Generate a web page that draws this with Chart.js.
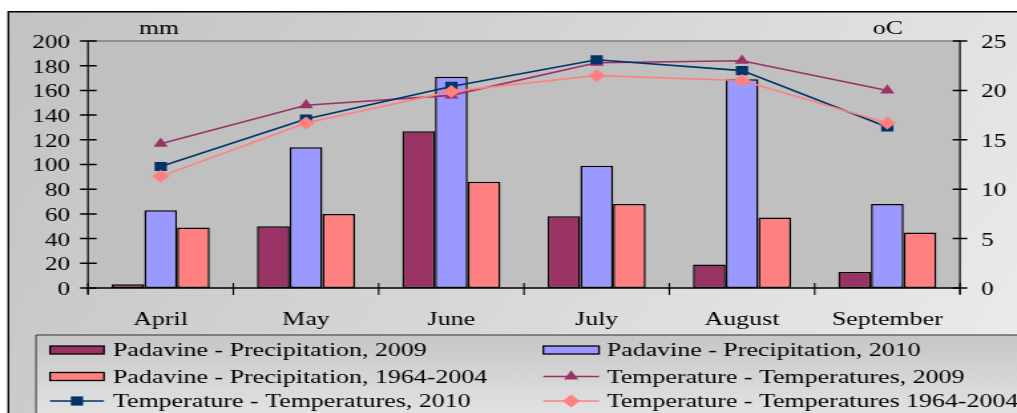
<!DOCTYPE html>
<html><head><meta charset="utf-8">
<script src="https://cdn.jsdelivr.net/npm/chart.js@4.4.0/dist/chart.umd.min.js"></script>
<style>
html,body{margin:0;padding:0;background:#fff;overflow:hidden;width:1017px;height:413px;}
#wrap{position:absolute;left:0;top:0;width:765px;height:413px;transform:scaleX(1.329412);transform-origin:0 0;}
canvas{display:block;}
</style></head><body>
<div id="wrap"><canvas id="c" width="765" height="413"></canvas></div>
<script>
const categories = ['April', 'May', 'June', 'July', 'August', 'September'];
const seriesNames = [
  'Padavine - Precipitation, 2009',
  'Padavine - Precipitation, 2010',
  'Padavine - Precipitation, 1964-2004',
  'Temperature - Temperatures, 2009',
  'Temperature - Temperatures, 2010',
  'Temperature - Temperatures 1964-2004'
];
const precip2009 = [3, 50, 127, 58, 19, 13];
const precip2010 = [63, 114, 171, 99, 169, 68];
const precip19642004 = [49, 60, 86, 68, 57, 45];
const temp2009 = [14.6, 18.5, 19.5, 22.8, 23.0, 20.0];
const temp2010 = [12.3, 17.1, 20.4, 23.1, 22.0, 16.3];
const temp19642004 = [11.3, 16.7, 19.9, 21.5, 21.0, 16.7];
const leftTicks = [0, 20, 40, 60, 80, 100, 120, 140, 160, 180, 200];
const rightTicks = [0, 5, 10, 15, 20, 25];
const leftUnit = 'mm';
const rightUnit = 'oC';

const FONT = "'Liberation Serif', 'Times New Roman', serif";

function marker(ctx, style, x, y, r, color) {
  ctx.fillStyle = color;
  ctx.beginPath();
  if (style === 'triangle') {
    ctx.moveTo(x, y - r);
    ctx.lineTo(x + r * 0.866, y + r * 0.5);
    ctx.lineTo(x - r * 0.866, y + r * 0.5);
  } else if (style === 'rect') {
    const s = r * Math.SQRT1_2;
    ctx.rect(x - s, y - s, 2 * s, 2 * s);
  } else {
    ctx.moveTo(x, y - r); ctx.lineTo(x + r, y); ctx.lineTo(x, y + r); ctx.lineTo(x - r, y);
  }
  ctx.closePath();
  ctx.fill();
}

const decor = {
  id: 'decor',
  beforeDraw(chart) {
    const {ctx, chartArea: a, width, height} = chart;
    ctx.save();
    ctx.fillStyle = '#fff';
    ctx.fillRect(0, 0, width, height);
    const g = ctx.createLinearGradient(6, 11, width, height);
    g.addColorStop(0, '#c2c2c2');
    g.addColorStop(1, '#ececec');
    ctx.fillStyle = g;
    ctx.fillRect(6.3, 11.7, width, height);
    ctx.strokeStyle = '#000';
    ctx.lineWidth = 1.4;
    ctx.beginPath();
    ctx.moveTo(6.3, height + 5); ctx.lineTo(6.3, 11.7); ctx.lineTo(width + 5, 11.7);
    ctx.stroke();
    // plot area
    ctx.fillStyle = '#c0c0c0';
    ctx.fillRect(a.left, a.top, a.right - a.left, a.bottom - a.top);
    ctx.strokeStyle = '#808080';
    ctx.lineWidth = 1.5;
    ctx.beginPath(); ctx.moveTo(a.left, a.top); ctx.lineTo(a.right, a.top); ctx.stroke();
    // unit labels
    ctx.fillStyle = '#000';
    ctx.font = '19.5px ' + FONT;
    ctx.textAlign = 'center';
    ctx.textBaseline = 'middle';
    ctx.fillText(leftUnit, 119.6, 29);
    ctx.fillText(rightUnit, 668, 29);
    // legend box
    const lg = ctx.createLinearGradient(0, 335, 0, height);
    lg.addColorStop(0, '#c6c6c6');
    lg.addColorStop(1, '#e2e2e2');
    ctx.fillStyle = lg;
    ctx.fillRect(27.1, 335, width, height);
    ctx.strokeStyle = '#333';
    ctx.lineWidth = 1;
    ctx.beginPath();
    ctx.moveTo(27.1, height + 5); ctx.lineTo(27.1, 335); ctx.lineTo(width + 5, 335);
    ctx.stroke();
    // legend items
    const cols = [{sx: 37.6, ex: 78.2, tx: 85}, {sx: 408.7, ex: 450.6, tx: 456.4}];
    const rows = [350, 376.5, 401];
    chart.data.datasets.forEach((ds, i) => {
      const c = cols[i % 2], y = rows[Math.floor(i / 2)];
      if (ds.type === 'bar') {
        ctx.fillStyle = ds.backgroundColor;
        ctx.fillRect(c.sx, y - 4, c.ex - c.sx, 8);
        ctx.strokeStyle = '#000';
        ctx.lineWidth = 1.3;
        ctx.strokeRect(c.sx, y - 4, c.ex - c.sx, 8);
      } else {
        ctx.strokeStyle = ds.borderColor;
        ctx.lineWidth = 1.5;
        ctx.beginPath(); ctx.moveTo(c.sx, y); ctx.lineTo(c.ex, y); ctx.stroke();
        marker(ctx, ds.pointStyle, (c.sx + c.ex) / 2, y, ds.pointRadius, ds.borderColor);
      }
      ctx.fillStyle = '#000';
      ctx.font = '19.5px ' + FONT;
      ctx.textAlign = 'left';
      ctx.textBaseline = 'middle';
      ctx.fillText(ds.label, c.tx, y + 1);
    });
    ctx.restore();
  },
  afterDatasetsDraw(chart) {
    const {ctx, chartArea: a, scales} = chart;
    ctx.save();
    ctx.strokeStyle = '#000';
    ctx.lineWidth = 1.2;
    ctx.beginPath();
    ctx.moveTo(a.left, a.top); ctx.lineTo(a.left, a.bottom + 6);
    ctx.moveTo(a.right, a.top); ctx.lineTo(a.right, a.bottom + 6);
    ctx.stroke();
    ctx.lineWidth = 1.5;
    ctx.beginPath();
    ctx.moveTo(a.left, a.bottom); ctx.lineTo(a.right, a.bottom);
    ctx.stroke();
    ctx.beginPath();
    scales.y.ticks.forEach(t => {
      const p = scales.y.getPixelForValue(t.value);
      ctx.moveTo(a.left - 6, p); ctx.lineTo(a.left + 6.5, p);
    });
    scales.y1.ticks.forEach(t => {
      const p = scales.y1.getPixelForValue(t.value);
      ctx.moveTo(a.right - 5.5, p); ctx.lineTo(a.right + 5.5, p);
    });
    ctx.stroke();
    ctx.lineWidth = 1.1;
    ctx.beginPath();
    for (let i = 0; i <= categories.length; i++) {
      const p = scales.x.getPixelForValue(i - 0.5);
      ctx.moveTo(p, a.bottom - 5); ctx.lineTo(p, a.bottom + 7);
    }
    ctx.stroke();
    ctx.restore();
  }
};

const barCommon = {type: 'bar', yAxisID: 'y', borderColor: '#000', borderWidth: 1.5,
  borderSkipped: false, categoryPercentage: 0.675, barPercentage: 1.0, order: 3};
const lineCommon = {type: 'line', yAxisID: 'y1', borderWidth: 1.6, pointBorderWidth: 0, fill: false, tension: 0};

new Chart(document.getElementById('c'), {
  data: {
    labels: categories,
    datasets: [
      Object.assign({}, barCommon, {label: seriesNames[0], data: precip2009, backgroundColor: '#993366'}),
      Object.assign({}, barCommon, {label: seriesNames[1], data: precip2010, backgroundColor: '#9999FF'}),
      Object.assign({}, barCommon, {label: seriesNames[2], data: precip19642004, backgroundColor: '#FF8080'}),
      Object.assign({}, lineCommon, {label: seriesNames[3], data: temp2009, borderColor: '#993366', backgroundColor: '#993366', pointStyle: 'triangle', pointRadius: 6.2, order: 2}),
      Object.assign({}, lineCommon, {label: seriesNames[4], data: temp2010, borderColor: '#003366', backgroundColor: '#003366', pointStyle: 'rect', pointRadius: 6.5, order: 1}),
      Object.assign({}, lineCommon, {label: seriesNames[5], data: temp19642004, borderColor: '#FF8080', backgroundColor: '#FF8080', pointStyle: 'rectRot', pointRadius: 6.5, order: 0})
    ]
  },
  options: {
    responsive: false,
    animation: false,
    devicePixelRatio: 1,
    layout: {padding: {top: 41, left: 0, right: 0, bottom: 0}},
    plugins: {legend: {display: false}, tooltip: {enabled: false}},
    scales: {
      x: {
        grid: {display: false, drawTicks: false}, border: {display: false},
        ticks: {color: '#000', font: {family: FONT, size: 19.5}, padding: 20, maxRotation: 0, autoSkip: false},
        afterFit: s => { s.height = 125; }
      },
      y: {
        position: 'left', min: 0, max: 200,
        grid: {display: false, drawTicks: false}, border: {display: false},
        ticks: {color: '#000', font: {family: FONT, size: 19}, padding: 13.5, labelOffset: 2, autoSkip: false},
        afterBuildTicks: s => { s.ticks = leftTicks.map(v => ({value: v})); },
        afterFit: s => { s.width = 66.2; }
      },
      y1: {
        position: 'right', min: 0, max: 25,
        grid: {display: false, drawTicks: false}, border: {display: false},
        ticks: {color: '#000', font: {family: FONT, size: 19}, padding: 16, labelOffset: 2, autoSkip: false},
        afterBuildTicks: s => { s.ticks = rightTicks.map(v => ({value: v})); },
        afterFit: s => { s.width = 42.9; }
      }
    }
  },
  plugins: [decor]
});
</script>
</body></html>
